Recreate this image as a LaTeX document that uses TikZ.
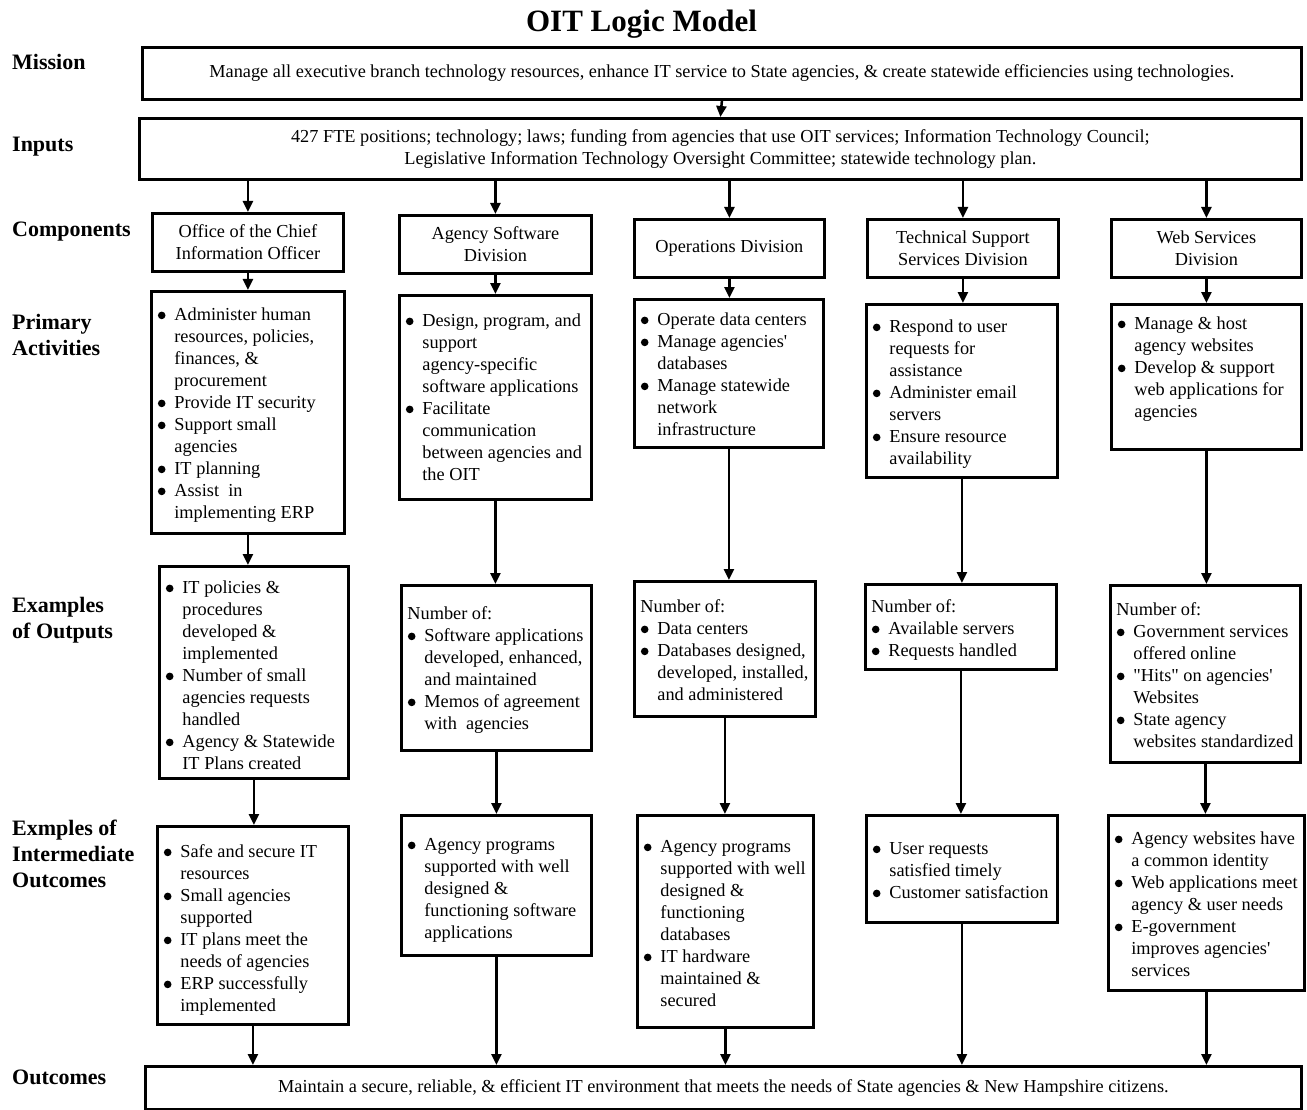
\documentclass[tikz,border=0pt]{standalone}
\usepackage{fontspec}
\setmainfont{Liberation Serif}
\usepackage{tikz}
\usetikzlibrary{arrows.meta}

\newcommand{\dotmark}{\tikz[baseline=-5pt]\fill (0,0) circle (3.8pt);}
\newcommand{\bitem}{\par\hangindent=17pt\hangafter=1\noindent\hbox to 17pt{\strut\hspace{0.5pt}\dotmark\hfil}}
\newcommand{\boxtext}[4][12]{\parbox[t][#2pt][t]{#3pt}{\leftskip=6pt\rightskip=0pt plus 1fil\vspace*{#1pt}#4}}
\newcommand{\apos}{\textquotesingle}

\begin{document}
\begin{tikzpicture}[x=1pt, y=-1pt, font=\fontsize{18.3}{22}\selectfont,
  blk/.style={draw, line width=2.8pt, anchor=north west, inner sep=0pt},
  comp/.style={blk, align=center},
  lbl/.style={anchor=west, inner sep=0pt, align=left, font=\fontsize{22}{26}\selectfont\bfseries},
  arr/.style={line width=2.5pt, -{Triangle[length=11pt, width=10pt]}}]
\useasboundingbox (0,0) rectangle (1307,1110);

% Title and row labels
\node[anchor=base, inner sep=0pt, font=\fontsize{31}{36}\selectfont\bfseries] (title) at (641.5,32) {OIT Logic Model};
\node[lbl] (lmission) at (12,62) {Mission};
\node[lbl] (linputs) at (12,147) {Inputs};
\node[lbl] (lcomp) at (12,232) {Components};
\node[lbl] (lact) at (12,334.5) {Primary\\Activities};
\node[lbl] (lout) at (12,620) {Examples\\of Outputs};
\node[lbl] (linter) at (12,854) {Exmples of\\Intermediate\\Outcomes};
\node[lbl] (lresult) at (12,1077) {Outcomes};

% Mission and inputs
\node[comp, minimum width=1159pt, minimum height=52pt] (mission) at (141,46)
  {Manage all executive branch technology resources, enhance IT service to State agencies, \& create statewide efficiencies using technologies.};
\node[comp, minimum width=1162pt, minimum height=61pt] (inputs) at (138,117)
  {427 FTE positions; technology; laws; funding from agencies that use OIT services; Information Technology Council;\\
   Legislative Information Technology Oversight Committee; statewide technology plan.};

% Components
\node[comp, minimum width=191pt, minimum height=58pt] (c1) at (151,212) {Office of the Chief\\Information Officer};
\node[comp, minimum width=192pt, minimum height=58pt] (c2) at (398,214) {Agency Software\\Division};
\node[comp, minimum width=190pt, minimum height=58pt] (c3) at (633,218) {Operations Division};
\node[comp, minimum width=191pt, minimum height=58pt] (c4) at (866,218) {Technical Support\\Services Division};
\node[comp, minimum width=190pt, minimum height=58pt] (c5) at (1110,218) {Web Services\\Division};

% Primary activities
\node[blk] (a1) at (150,290) {\boxtext[13.6]{242}{193}{\bitem Administer human\\resources, policies,\\finances, \&\\procurement
  \bitem Provide IT security \bitem Support small\\agencies \bitem IT planning \bitem Assist\ \ in\\implementing ERP}};
\node[blk] (a2) at (398,294) {\boxtext[15.6]{204}{192}{\bitem Design, program, and\\support\\agency-specific\\software applications
  \bitem Facilitate\\communication\\between agencies and\\the OIT}};
\node[blk] (a3) at (633,298) {\boxtext[10.6]{148}{189}{\bitem Operate data centers \bitem Manage agencies\apos\\databases
  \bitem Manage statewide\\network\\infrastructure}};
\node[blk] (a4) at (865,303) {\boxtext[12.6]{173}{191}{\bitem Respond to user\\requests for\\assistance
  \bitem Administer email\\servers \bitem Ensure resource\\availability}};
\node[blk] (a5) at (1110,303) {\boxtext[9.6]{145}{190}{\bitem Manage \& host\\agency websites
  \bitem Develop \& support\\web applications for\\agencies}};

% Examples of outputs
\node[blk] (o1) at (158,565) {\boxtext[11.6]{212}{189}{\bitem IT policies \&\\procedures\\developed \&\\implemented
  \bitem Number of small\\agencies requests\\handled \bitem Agency \& Statewide\\IT Plans created}};
\node[blk] (o2) at (400,584) {\boxtext[18.6]{165}{190}{\strut Number of:
  \bitem Software applications\\developed, enhanced,\\and maintained \bitem Memos of agreement\\with\ \ agencies}};
\node[blk] (o3) at (633,580) {\boxtext[15.6]{135}{181}{\strut Number of:
  \bitem Data centers \bitem Databases designed,\\developed, installed,\\and administered}};
\node[blk] (o4) at (864,583) {\boxtext[12.6]{85}{191}{\strut Number of:
  \bitem Available servers \bitem Requests handled}};
\node[blk] (o5) at (1109,584) {\boxtext[14.6]{177}{190}{\strut Number of:
  \bitem Government services\\offered online \bitem \textquotedbl Hits\textquotedbl{} on agencies\apos\\Websites
  \bitem State agency\\websites standardized}};

% Examples of intermediate outcomes
\node[blk] (i1) at (156,825) {\boxtext[15.6]{198}{191}{\bitem Safe and secure IT\\resources \bitem Small agencies\\supported
  \bitem IT plans meet the\\needs of agencies \bitem ERP successfully\\implemented}};
\node[blk] (i2) at (400,814) {\boxtext[19.6]{140}{190}{\bitem Agency programs\\supported with well\\designed \&\\functioning software\\applications}};
\node[blk] (i3) at (636,814) {\boxtext[21.6]{212}{176}{\bitem Agency programs\\supported with well\\designed \&\\functioning\\databases
  \bitem IT hardware\\maintained \&\\secured}};
\node[blk] (i4) at (865,814) {\boxtext[23.6]{107}{191}{\bitem User requests\\satisfied timely \bitem Customer satisfaction}};
\node[blk] (i5) at (1107,814) {\boxtext[13.6]{175}{196}{\bitem Agency websites have\\a common identity
  \bitem Web applications meet\\agency \& user needs \bitem E-government\\improves agencies\apos\\services}};

% Outcomes
\node[comp, minimum width=1156pt, minimum height=43pt] (result) at (144,1065)
  {Maintain a secure, reliable, \& efficient IT environment that meets the needs of State agencies \& New Hampshire citizens.};

% Connectors
\draw[arr] (mission.south) -- (inputs.north);
\foreach \c/\a/\o/\i in {c1/a1/o1/i1, c2/a2/o2/i2, c3/a3/o3/i3, c4/a4/o4/i4, c5/a5/o5/i5} {
  \draw[arr] (\c.north |- inputs.south) -- (\c.north);
  \draw[arr] (\c.south) -- (\c.south |- \a.north);
  \draw[arr] (\a.south) -- (\a.south |- \o.north);
  \draw[arr] (\o.south) -- (\o.south |- \i.north);
  \draw[arr] (\i.south) -- (\i.south |- result.north);
}
\end{tikzpicture}
\end{document}
